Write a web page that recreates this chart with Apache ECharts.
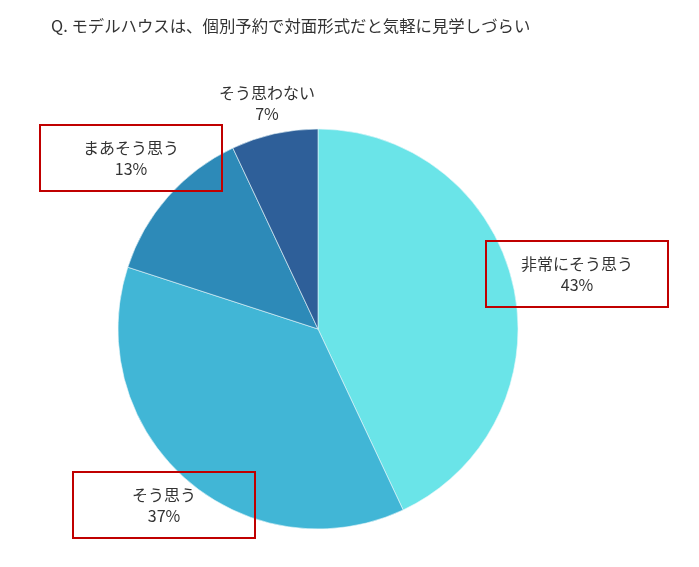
<!DOCTYPE html>
<html>
<head>
<meta charset="utf-8">
<script src="https://cdn.jsdelivr.net/npm/echarts@6/dist/echarts.min.js"></script>
<style>
  html, body { margin: 0; padding: 0; background: #fff; }
  #chart { width: 699px; height: 567px; }
</style>
</head>
<body>
<div id="chart"></div>
<script>
let titleText = 'Q. モデルハウスは、個別予約で対面形式だと気軽に見学しづらい';
let categories = ['非常にそう思う', 'そう思う', 'まあそう思う', 'そう思わない'];
let values = [43, 37, 13, 7];
let colors = ['#6AE4E8', '#41B6D6', '#2D8AB8', '#2E5F99'];
let boxed = [true, true, true, false];

// where each label sits (text centre)
let labelSpots = [[577, 274], [164, 505], [131, 158], [267, 103]];

let mychart = echarts.init(document.getElementById('chart'));

let boxLabel = {
  borderColor: '#C00000',
  borderWidth: 2,
  width: 182,
  padding: [12, 0, 12, 0],
  align: 'center'
};

mychart.setOption({
  animation: false,
  title: {
    text: titleText,
    left: 46,
    top: 13,
    textStyle: {
      fontFamily: 'Noto Sans CJK JP',
      fontSize: 16.4,
      fontWeight: 'normal',
      color: '#333'
    }
  },
  series: [
    {
      type: 'pie',
      center: [318, 329],
      radius: 200,
      startAngle: 90,
      clockwise: true,
      itemStyle: {
        borderColor: '#e8f6fa',
        borderWidth: 0.6
      },
      label: {
        show: true,
        position: 'outside',
        formatter: '{b}\n{c}%',
        fontFamily: 'Noto Sans CJK JP',
        fontSize: 16,
        lineHeight: 21,
        color: '#333',
        align: 'center'
      },
      labelLine: { show: false },
      labelLayout: function (params) {
        let p = labelSpots[params.dataIndex];
        return {
          x: p[0],
          y: p[1],
          align: 'center',
          verticalAlign: 'middle'
        };
      },
      data: categories.map(function (name, i) {
        let item = {
          name: name,
          value: values[i],
          itemStyle: { color: colors[i] }
        };
        if (boxed[i]) {
          item.label = boxLabel;
        }
        return item;
      })
    }
  ]
});
</script>
</body>
</html>
